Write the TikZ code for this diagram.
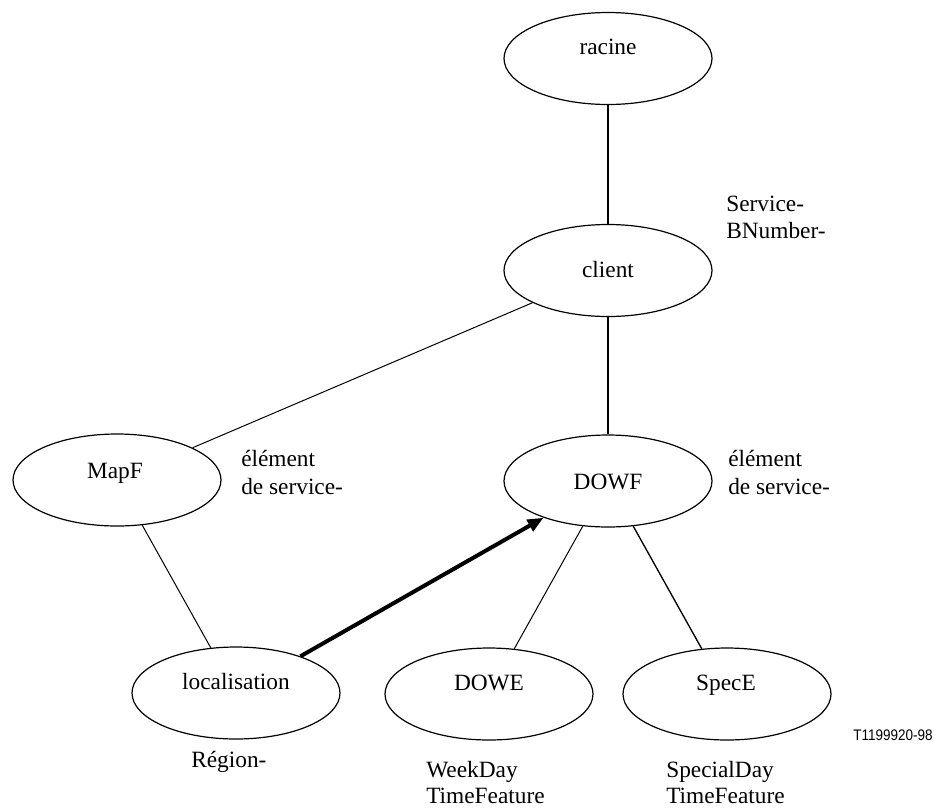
\documentclass[tikz,border=0pt]{standalone}
\usepackage{fontspec}
\setmainfont{Liberation Serif}
\newfontfamily\tagfont{Liberation Sans}
\usetikzlibrary{arrows.meta,shapes.geometric}
\begin{document}
\begin{tikzpicture}[x=0.75pt,y=-0.75pt,
  oval/.style={ellipse,draw,line width=0.9pt,inner sep=0pt,
    minimum width=156pt,minimum height=69pt},
  txt/.style={inner sep=0pt,font=\fontsize{17.5pt}{21pt}\selectfont},
  thinlink/.style={line width=0.75pt},
  boldlink/.style={line width=1.4pt},
  heavyarrow/.style={line width=3pt,-{Triangle[length=12pt,width=9.5pt]}}]
\useasboundingbox (0,0) rectangle (934,807);

% tree nodes
\node[oval] (racine) at (608,58.5) {};
\node[oval] (client) at (608,270.5) {};
\node[oval] (mapf)   at (117,480) {};
\node[oval] (dowf)   at (608,481) {};
\node[oval] (loc)    at (236,693) {};
\node[oval] (dowe)   at (489,694) {};
\node[oval] (spece)  at (727,694) {};

% names inside the ovals
\node[txt,anchor=base] (racine-t) at (608,54)  {racine};
\node[txt,anchor=base] (client-t) at (608,277) {client};
\node[txt,anchor=base] (mapf-t)   at (115,478) {MapF};
\node[txt,anchor=base] (dowf-t)   at (608,489) {DOWF};
\node[txt,anchor=base] (loc-t)    at (236,689) {localisation};
\node[txt,anchor=base] (dowe-t)   at (489,690) {DOWE};
\node[txt,anchor=base] (spece-t)  at (726,690) {SpecE};

% connectors
\draw[boldlink] (racine) -- (client);
\draw[boldlink] (client) -- (dowf);
\draw[thinlink] (client) -- (mapf);
\draw[thinlink] (mapf) -- (loc);
\draw[thinlink] (dowf) -- (dowe);
\draw[line width=1pt] (dowf) -- (spece);
\draw[heavyarrow] (loc) -- (dowf);

% class annotations
\node[txt,anchor=base west] (sb1) at (726,211) {Service-};
\node[txt,anchor=base west] (sb2) at (726,238) {BNumber-};
\node[txt,anchor=base west] (el1) at (241,466) {élément};
\node[txt,anchor=base west] (el2) at (241,494) {de service-};
\node[txt,anchor=base west] (er1) at (728,466) {élément};
\node[txt,anchor=base west] (er2) at (728,494) {de service-};
\node[txt,anchor=base west] (reg) at (191,767) {Région-};
\node[txt,anchor=base west] (wd1) at (426,777) {WeekDay};
\node[txt,anchor=base west] (wd2) at (426,803) {TimeFeature};
\node[txt,anchor=base west] (sd1) at (666,777) {SpecialDay};
\node[txt,anchor=base west] (sd2) at (666,803) {TimeFeature};

% figure tag
\node[inner sep=0pt,anchor=base east] (tag) at (933,740)
  {\scalebox{0.88}[1]{\tagfont\fontsize{11.5pt}{13pt}\selectfont T1199920-98}};
\end{tikzpicture}
\end{document}
